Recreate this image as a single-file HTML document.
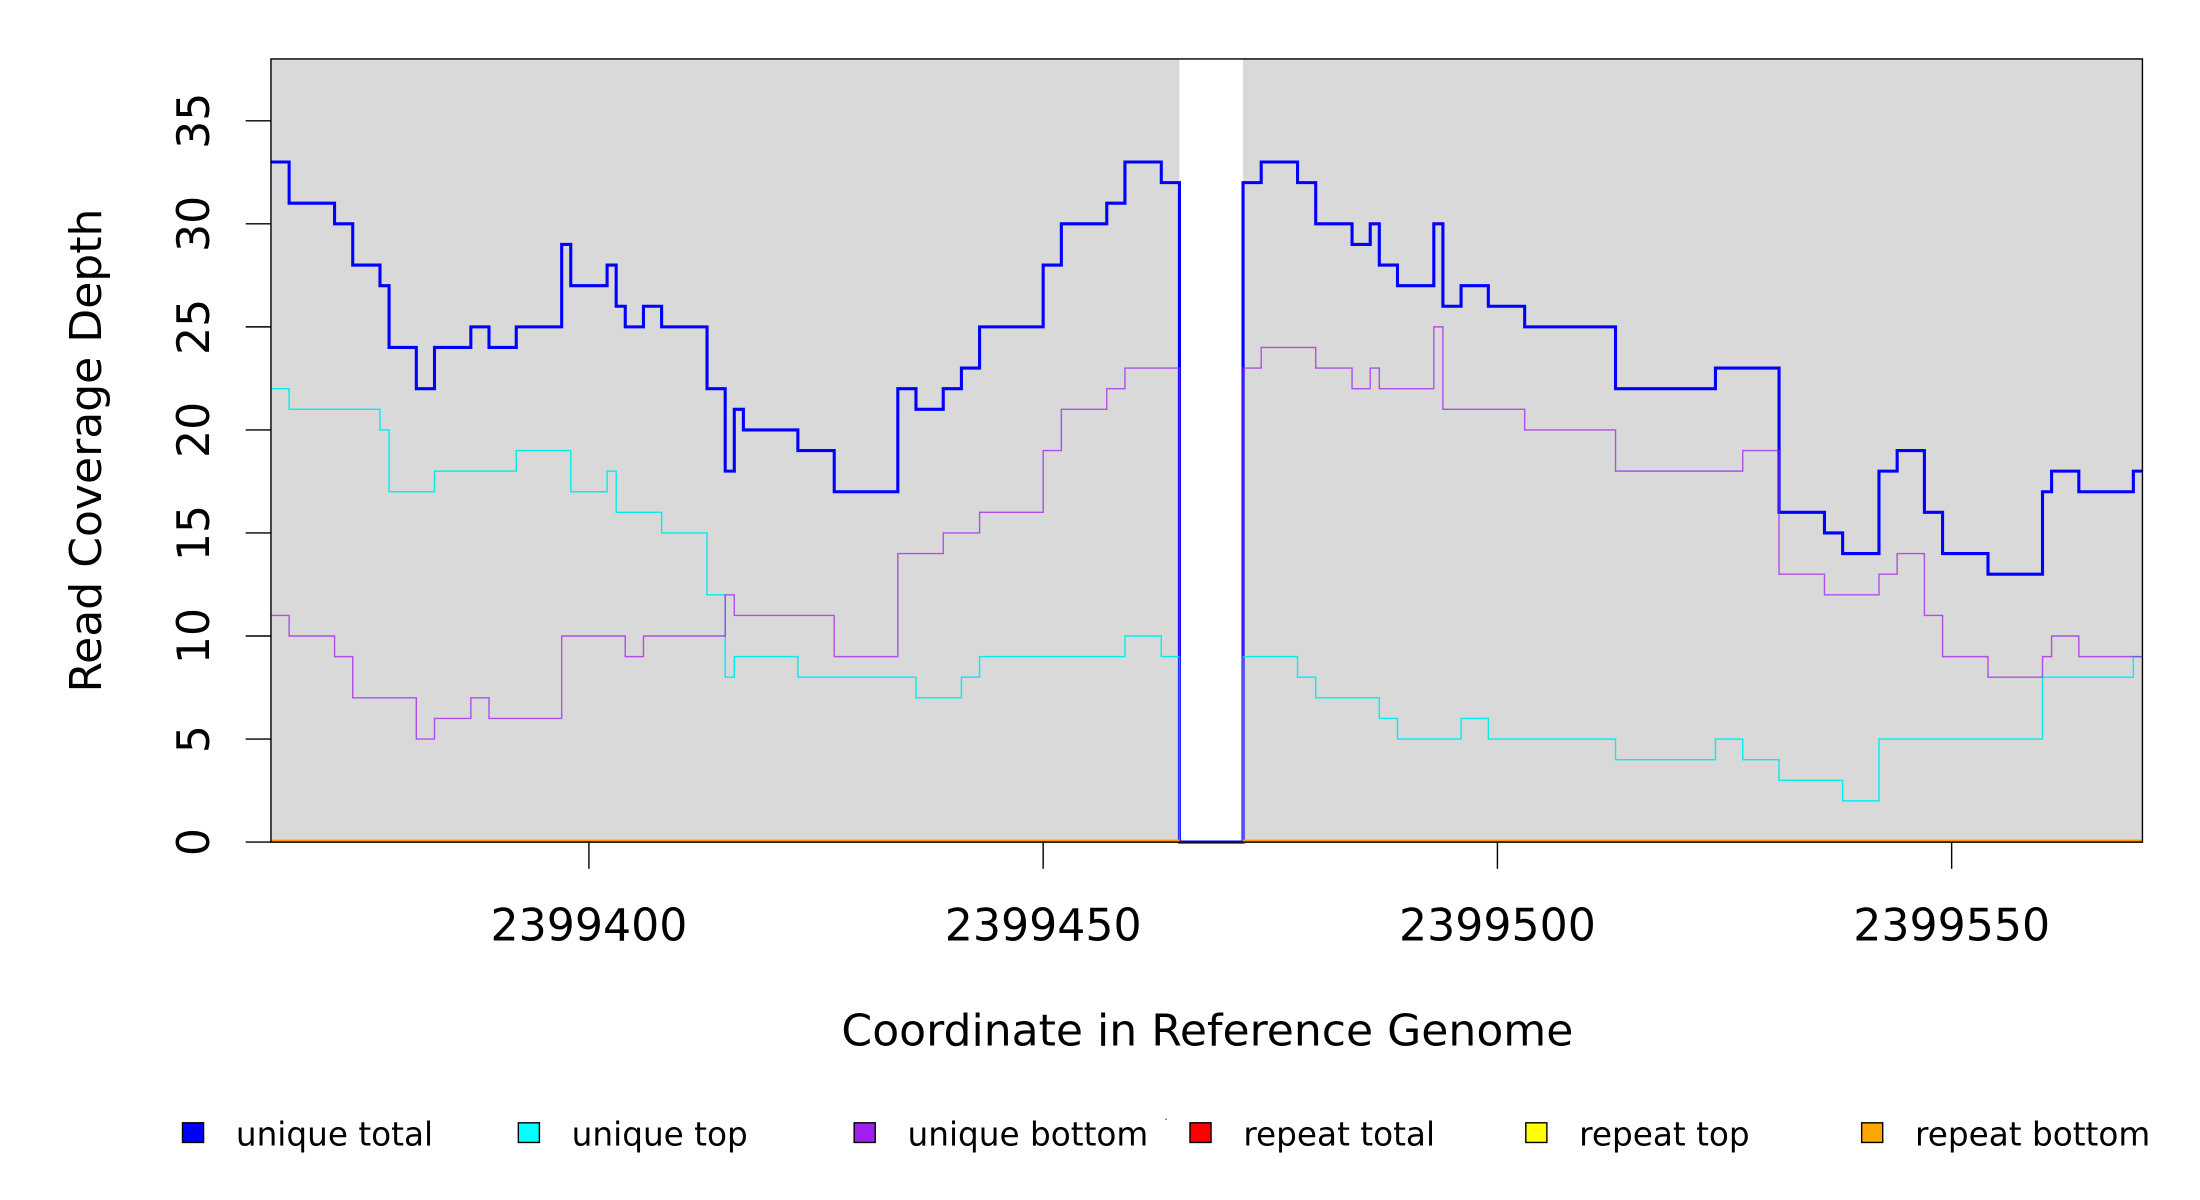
<!DOCTYPE html>
<html><head><meta charset="utf-8"><style>
html,body{margin:0;padding:0;background:#fff;}
svg{display:block;font-family:"DejaVu Sans","Liberation Sans",sans-serif;}
</style></head><body>
<svg id="chart" width="2200" height="1200" viewBox="0 0 1567 855" preserveAspectRatio="none" xmlns="http://www.w3.org/2000/svg">
<rect x="193" y="42" width="1333" height="558" fill="#d9d9d9"/>
<g id="gaps"></g>
<g id="series"></g>
<rect x="193" y="42" width="1333" height="558" fill="none" stroke="#000" stroke-width="1"/>
<g id="yaxis"></g>
<g id="xaxis"></g>
<text x="72" y="321" font-size="31.4" text-anchor="middle" transform="rotate(-90 72 321)">Read Coverage Depth</text>
<text x="860" y="745" font-size="31.4" text-anchor="middle">Coordinate in Reference Genome</text>
<rect x="830" y="797" width="1" height="1" fill="#555"/>
<g id="legend"></g>
</svg>
<script>
const xStart = 2399365, xEnd = 2399571;
const yMax = 38;
const yTicks = [0,5,10,15,20,25,30,35];
const xTicks = [2399400,2399450,2399500,2399550];
const gapStart = 2399465, gapEnd = 2399472;

const totalOff = [0,2,7,9,12,13,16,18,22,24,27,32,33,37,38,39,41,43,48,50,51,52,58,62,69,71,74,76,78,85,87,92,94,98,100,107,109,113,115,119,121,122,124,128,129,131,134,138,148,159,166,171,173,177,179,182,184,189,195,196,199,205];
const totalVal = [33,31,30,28,27,24,22,24,25,24,25,29,27,28,26,25,26,25,22,18,21,20,19,17,22,21,22,23,25,28,30,31,33,32,0,32,33,32,30,29,30,28,27,30,26,27,26,25,22,23,16,15,14,18,19,16,14,13,17,18,17,18];

const topOff = [0,2,12,13,18,27,33,37,38,43,48,50,51,58,71,76,78,94,98,100,107,113,115,122,124,131,134,148,159,162,166,173,177,195,205];
const topVal = [22,21,20,17,18,19,17,18,16,15,12,8,9,8,7,8,9,10,9,0,9,8,7,6,5,6,5,4,5,4,3,2,5,8,9];

const botOff = [0,2,7,9,16,18,22,24,32,39,41,50,51,62,69,74,78,85,87,92,94,100,107,109,115,119,121,122,128,129,138,148,162,166,171,177,179,182,184,189,195,196,199];
const botVal = [11,10,9,7,5,6,7,6,10,9,10,12,11,9,14,15,16,19,21,22,23,0,23,24,23,22,23,22,25,21,20,18,19,13,12,13,14,11,9,8,9,10,9];

const L=193,R=1526,T=42,B=600;
const sx = v => L + (v - xStart) * (R - L) / (xEnd - xStart);
const sy = v => B - v * (B - T) / yMax;
const NS="http://www.w3.org/2000/svg";
function mk(tag, attrs, parent){const e=document.createElementNS(NS,tag);for(const k in attrs)e.setAttribute(k,attrs[k]);parent.appendChild(e);return e;}

const gg=document.getElementById('gaps');
const gr=mk('rect',{x:sx(gapStart),y:T,width:sx(gapEnd)-sx(gapStart),height:B-T,fill:'#fff'},gg);



function stepPath(off, vals){
  let d='';
  for(let i=0;i<off.length;i++){
    const x0=sx(xStart+off[i]);
    const x1=sx(i+1<off.length? xStart+off[i+1] : xEnd);
    const y=sy(vals[i]);
    d += (i===0?'M':'L')+x0.toFixed(2)+','+y.toFixed(2)+' L'+x1.toFixed(2)+','+y.toFixed(2)+' ';
  }
  return d;
}
const sg=document.getElementById('series');
const pTotal=mk('path',{d:stepPath(totalOff,totalVal),fill:'none',stroke:'#0000ff','stroke-width':2.2},sg);


const pTop=mk('path',{d:stepPath(topOff,topVal),fill:'none',stroke:'#00eeee','stroke-width':1},sg);


const pBot=mk('path',{d:stepPath(botOff,botVal),fill:'none',stroke:'#a020f0','stroke-width':1,'stroke-opacity':0.75},sg);


const zeroCols=[['repeat-total-line','#ff0000',1],['repeat-top-line','#ffff00',1],['repeat-bottom-line','#ff9900',2.4]];
zeroCols.forEach(c=>{
  const p=mk('path',{d:'M'+L+','+(sy(0)-0.6)+' L'+sx(gapStart)+','+(sy(0)-0.6)+' M'+sx(gapEnd)+','+(sy(0)-0.6)+' L'+R+','+(sy(0)-0.6),fill:'none',stroke:c[1],'stroke-width':c[2]},sg);
  
  
});

const ya=document.getElementById('yaxis');
yTicks.forEach(v=>{
  const ln=mk('line',{x1:175,x2:L,y1:sy(v),y2:sy(v),stroke:'#000','stroke-width':1},ya);
  
  
  const t=mk('text',{x:149,y:sy(v),'font-size':31.5,'text-anchor':'middle',transform:'rotate(-90 149 '+sy(v)+')'},ya);
  
  
  t.textContent=v;
});
const xa=document.getElementById('xaxis');
xTicks.forEach(v=>{
  const ln=mk('line',{x1:sx(v),x2:sx(v),y1:B,y2:619,stroke:'#000','stroke-width':1},xa);
  
  
  const t=mk('text',{x:sx(v),y:670,'font-size':31.5,'text-anchor':'middle'},xa);
  
  
  t.textContent=v;
});
const legNames=['unique total','unique top','unique bottom','repeat total','repeat top','repeat bottom'];
const legCols=['#0000ff','#00ffff','#a020f0','#ff0000','#ffff00','#ffa500'];
const lg=document.getElementById('legend');
legNames.forEach((n,i)=>{
  const x=130+i*239.2;
  const r=mk('rect',{x:x,y:800,width:15,height:14,fill:legCols[i],stroke:'#000','stroke-width':1},lg);
  
  
  const t=mk('text',{x:x+38,y:816,'font-size':23.3},lg);
  
  
  t.textContent=n;
});
</script>
</body></html>
